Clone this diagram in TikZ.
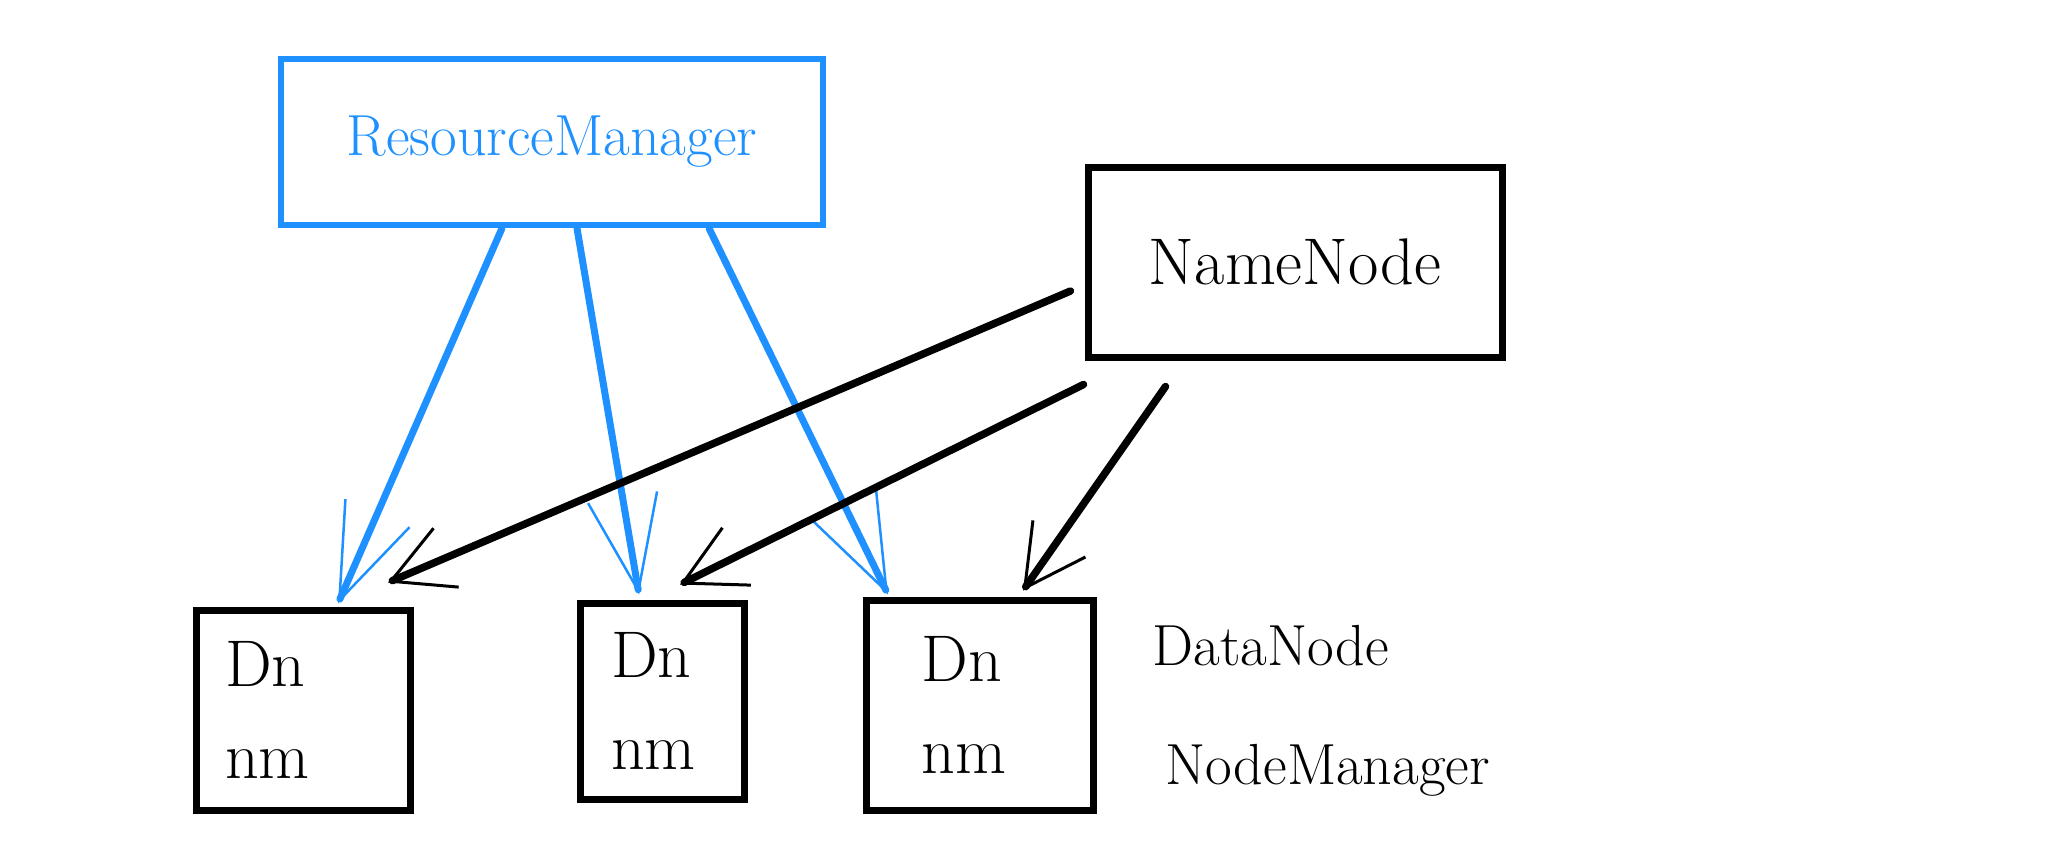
\documentclass[tikz,border=0pt]{standalone}
\usepackage{fontspec}
\usepackage{tikz}
\usetikzlibrary{arrows.meta,positioning}
\definecolor{penblue}{RGB}{30,144,255}

\tikzset{
  bigtext/.style={font=\fontsize{58}{90}\selectfont},
  boxtext/.style={font=\fontsize{66}{92}\selectfont},
  rmbox/.style={shape=rectangle,draw=penblue,line width=6.5pt,text=penblue,bigtext,inner sep=0pt},
  nnbox/.style={shape=rectangle,draw=black,line width=7pt,boxtext,inner sep=0pt},
  dnbox/.style={shape=rectangle,draw=black,line width=7pt,boxtext,align=left,inner sep=0pt},
  bluearrow/.style={draw=penblue,line width=7pt,line cap=round,
    -{Straight Barb[length=95pt,width=70pt,line width=2.5pt]}},
  blackarrow/.style={draw=black,line width=7.5pt,line cap=round,
    -{Straight Barb[length=60pt,width=64pt,line width=3pt]}}
}

\begin{document}
\begin{tikzpicture}[x=1pt,y=-1pt]
\useasboundingbox (0,0) rectangle (2048,867);
\node[rmbox,minimum width=542pt,minimum height=166pt] (RM) at (552,142) {ResourceManager};
\node[nnbox,minimum width=414pt,minimum height=190pt] (NN) at (1295,262) {NameNode};
\node[dnbox,minimum width=214pt,minimum height=200pt,text width=156pt] (D1) at (303,710) {Dn\\nm};
\node[dnbox,minimum width=164pt,minimum height=196pt,text width=102pt] (D2) at (662,701) {Dn\\nm};
\node[dnbox,minimum width=227pt,minimum height=210pt,text width=117pt] (D3) at (980,705) {Dn\\nm};
\node[bigtext,anchor=west] (DNL) at (1149,646) {DataNode};
\node[bigtext,anchor=west] (NML) at (1162,770) {NodeManager};
\draw [bluearrow] ([xshift=-50pt]RM.south) -- ([xshift=35pt,yshift=3pt]D1.north);
\draw [bluearrow] ([xshift=25pt]RM.south) -- ([xshift=-23pt,yshift=5pt]D2.north);
\draw [bluearrow] ([xshift=157pt]RM.south) -- ([xshift=-92pt,yshift=2pt]D3.north);
\draw [blackarrow] ([xshift=-14pt,yshift=-29pt]NN.west) -- ([xshift=85pt,yshift=24pt]D1.north);
\draw [blackarrow] ([xshift=-1pt,yshift=-24pt]NN.south west) -- ([xshift=18pt,yshift=15pt]D2.north);
\draw [blackarrow] ([xshift=81pt,yshift=-26pt]NN.south west) -- ([xshift=43pt,yshift=6pt]D3.north);
\end{tikzpicture}
\end{document}
